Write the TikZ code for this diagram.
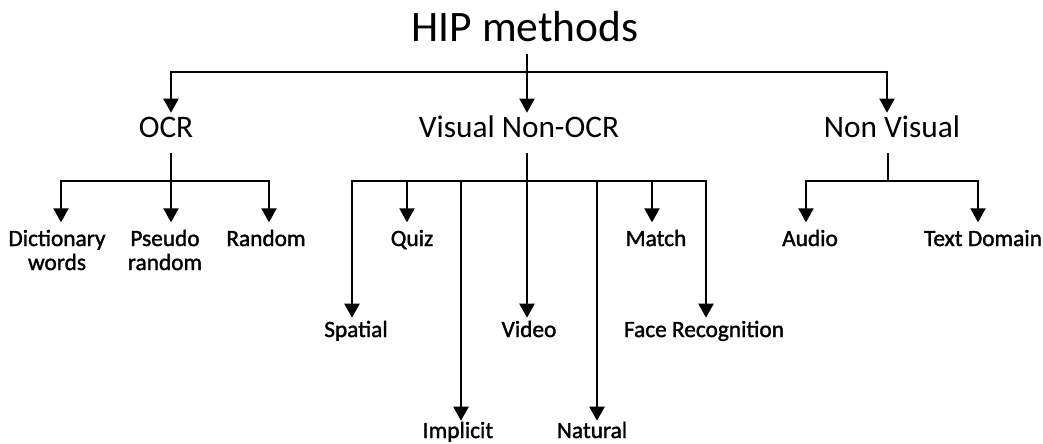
\documentclass[tikz,border=0pt]{standalone}
\usepackage{fontspec}
\setmainfont{Carlito}
\newfontfamily\leaffont{Carlito}[FakeBold=1.5]
\usetikzlibrary{arrows.meta}
\begin{document}
\begin{tikzpicture}[x=0.75pt,y=-0.75pt,
  wire/.style={line width=1.6pt},
  bus/.style={wire,line cap=rect},
  arr/.style={wire,-{Triangle[length=10.5pt,width=11.25pt]}},
  title/.style={font=\fontsize{32.6}{39}\selectfont,inner sep=0pt,anchor=base},
  cat/.style={font=\fontsize{23.5}{28}\selectfont,inner sep=0pt,
    text height=14.85pt,text depth=0pt,anchor=base},
  leaf/.style={font=\leaffont\fontsize{17.5}{18}\selectfont,inner sep=0pt,
    text height=11.06pt,text depth=0pt,anchor=base,align=center},
  % two-line labels are placed by the baseline of their second line
  leaf2/.style={leaf,text height=29.06pt},
  rowA/.style={arr,shorten >=6.5pt},
  rowB/.style={arr,shorten >=3.2pt},
  rowC/.style={arr,shorten >=1.7pt},
]
\useasboundingbox (0,0) rectangle (1043,443);

% root and the three families
\node[title] (hip) at (525,41) {HIP methods};
\node[cat] (ocr) at (166,137) {OCR};
\node[cat] (vno) at (519,137) {Visual Non-OCR};
\node[cat] (nv)  at (892,137) {Non Visual};

% OCR leaves
\node[leaf2] (dict)   at (57,270)  {Dictionary\\words};
\node[leaf2] (pseudo) at (165,270) {Pseudo\\random};
\node[leaf]  (rand)   at (266,246) {Random};

% visual non-OCR leaves
\node[leaf] (spatial)  at (356,337) {Spatial};
\node[leaf] (quiz)     at (412,246) {Quiz};
\node[leaf] (implicit) at (458,438) {Implicit};
\node[leaf] (video)    at (529,337) {Video};
\node[leaf] (natural)  at (592,438) {Natural};
\node[leaf] (match)    at (656,246) {Match};
\node[leaf] (face)     at (704,337) {Face Recognition};

% non-visual leaves
\node[leaf] (audio) at (810,246) {Audio};
\node[leaf] (textd) at (983,246) {Text Domain};

% drop points on the top bus
\coordinate (t-ocr) at (171,72);
\coordinate (t-vno) at (527,72);
\coordinate (t-nv)  at (887,72);

% drop points on the lower buses
\coordinate (o-dict)   at (61,181);
\coordinate (o-pseudo) at (171,181);
\coordinate (o-rand)   at (269,181);
\coordinate (v-spatial)  at (352,181);
\coordinate (v-quiz)     at (407,181);
\coordinate (v-implicit) at (461,181);
\coordinate (v-video)    at (527,181);
\coordinate (v-natural)  at (597,181);
\coordinate (v-match)    at (652,181);
\coordinate (v-face)     at (706,181);
\coordinate (n-audio) at (806,181);
\coordinate (n-stem)  at (888,181);
\coordinate (n-textd) at (978,181);

% first level
\draw[bus] (t-ocr) -- (t-nv);
\draw[arr,shorten <=9pt,shorten >=3.2pt] (hip.south -| t-vno) -- (t-vno |- vno.north);
\draw[arr,shorten >=3.2pt] (t-ocr) -- (t-ocr |- ocr.north);
\draw[arr,shorten >=3.2pt] (t-nv) -- (t-nv |- nv.north);

% OCR branch
\draw[wire,shorten <=12pt] (ocr.south -| o-pseudo) -- (o-pseudo);
\draw[bus] (o-dict) -- (o-rand);
\draw[rowA] (o-dict) -- (o-dict |- dict.north);
\draw[rowA] (o-pseudo) -- (o-pseudo |- pseudo.north);
\draw[rowA] (o-rand) -- (o-rand |- rand.north);

% visual non-OCR branch
\draw[wire,shorten <=12pt] (vno.south -| v-video) -- (v-video);
\draw[bus] (v-spatial) -- (v-face);
\draw[rowB] (v-spatial) -- (v-spatial |- spatial.north);
\draw[rowA] (v-quiz) -- (v-quiz |- quiz.north);
\draw[rowC] (v-implicit) -- (v-implicit |- implicit.north);
\draw[rowB] (v-video) -- (v-video |- video.north);
\draw[rowC] (v-natural) -- (v-natural |- natural.north);
\draw[rowA] (v-match) -- (v-match |- match.north);
\draw[rowB] (v-face) -- (v-face |- face.north);

% non-visual branch
\draw[wire,shorten <=12pt] (nv.south -| n-stem) -- (n-stem);
\draw[bus] (n-audio) -- (n-textd);
\draw[rowA] (n-audio) -- (n-audio |- audio.north);
\draw[rowA] (n-textd) -- (n-textd |- textd.north);
\end{tikzpicture}
\end{document}
